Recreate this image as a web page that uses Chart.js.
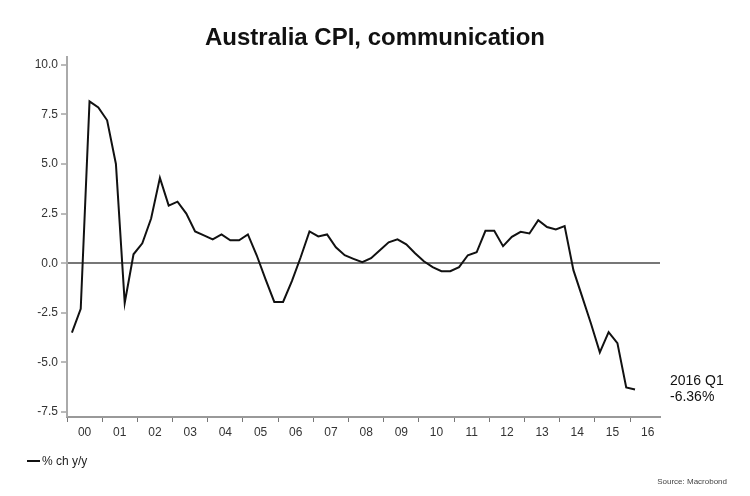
<!DOCTYPE html>
<html><head><meta charset="utf-8">
<script src="https://cdn.jsdelivr.net/npm/chart.js@4.4.1/dist/chart.umd.min.js"></script>
<style>
html,body{margin:0;padding:0;background:#fff;}
#wrap{position:relative;width:750px;height:496px;font-family:'Liberation Sans',Arial,sans-serif;}
#legend{position:absolute;left:27px;top:454px;font-size:12px;color:#222;display:flex;align-items:center;}
#legend .ln{display:inline-block;width:13px;height:2px;background:#111;margin-right:2px;}
#annot{position:absolute;left:670px;top:372px;font-size:14px;line-height:16px;color:#111;}
#source{position:absolute;right:23px;top:477px;font-size:8px;color:#444;}
</style></head><body>
<div id="wrap"><canvas id="c" width="750" height="496"></canvas>
<div id="legend"><span class="ln"></span><span id="legText"></span></div>
<div id="annot"></div><div id="source">Source: Macrobond</div></div>
<script>
const chartTitle = 'Australia CPI, communication';
const seriesName = '% ch y/y';
const startYear = 2000;
// quarterly % change y/y, 2000 Q1 .. 2016 Q1
const cpiComm = [
  -3.5, -2.3, 8.15, 7.85, 7.2, 5.0, -2.0, 0.45, 1.0, 2.25,
  4.3, 2.9, 3.1, 2.5, 1.6, 1.4, 1.2, 1.45, 1.15, 1.15,
  1.45, 0.4, -0.8, -1.95, -1.95, -0.9, 0.3, 1.6, 1.35, 1.45,
  0.8, 0.4, 0.22, 0.05, 0.25, 0.65, 1.05, 1.2, 0.95, 0.5,
  0.1, -0.2, -0.4, -0.4, -0.2, 0.4, 0.55, 1.63, 1.63, 0.86,
  1.33, 1.58, 1.5, 2.17, 1.82, 1.7, 1.87, -0.35, -1.7, -3.05,
  -4.49, -3.47, -4.03, -6.26, -6.36
];
const yearLabels = ['00','01','02','03','04','05','06','07','08','09','10','11','12','13','14','15','16'];
const yTickValues = [-7.5, -5, -2.5, 0, 2.5, 5, 7.5, 10];

const quarters = cpiComm.map((v, i) => (startYear + Math.floor(i / 4)) + ' Q' + (i % 4 + 1));
const points = quarters.map((q, i) => {
  const yr = parseInt(q.slice(0, 4), 10);
  const qn = parseInt(q.slice(6), 10);
  return { x: yr + (qn - 1) / 4 + 0.14, y: cpiComm[i] };
});

Chart.defaults.font.family = "'Liberation Sans', Arial, sans-serif";

new Chart(document.getElementById('c'), {
  type: 'line',
  data: { datasets: [{
    label: seriesName, data: points, borderColor: '#111', borderWidth: 2,
    pointRadius: 0, tension: 0, fill: false
  }]},
  options: {
    responsive: false, animation: false,
    layout: { padding: { left: 0, right: 0, top: 0, bottom: 51 } },
    plugins: {
      legend: { display: false }, tooltip: { enabled: false },
      title: { display: true, text: chartTitle, color: '#111',
        font: { size: 24, weight: 'bold' }, padding: { top: 24, bottom: 4 } }
    },
    scales: {
      x: {
        type: 'linear', min: startYear, max: 2016.85,
        afterFit: s => { s.height = 28; },
        afterBuildTicks: s => {
          const t = [];
          yearLabels.forEach((l, i) => { t.push({ value: startYear + i }); t.push({ value: startYear + i + 0.5 }); });
          s.ticks = t;
        },
        ticks: {
          autoSkip: false, maxRotation: 0, minRotation: 0, padding: 3,
          font: { size: 12 }, color: '#333',
          callback: v => {
            const f = v - Math.floor(v);
            return Math.abs(f - 0.5) < 1e-6 ? yearLabels[Math.floor(v) - startYear] : '';
          }
        },
        grid: { drawOnChartArea: false, tickLength: 5, tickWidth: 1,
          tickColor: c => (c.tick && Math.abs(c.tick.value % 1) < 1e-6) ? '#777' : 'rgba(0,0,0,0)' },
        border: { color: '#999', width: 2 }
      },
      y: {
        min: -7.75, max: 10.4,
        afterFit: s => { s.width = 67; },
        afterBuildTicks: s => { s.ticks = yTickValues.map(v => ({ value: v })); },
        ticks: { padding: 3, font: { size: 12 }, color: '#333', callback: v => v.toFixed(1) },
        grid: {
          color: c => (c.tick && c.tick.value === 0) ? '#777' : 'rgba(0,0,0,0)',
          lineWidth: c => (c.tick && c.tick.value === 0) ? 2 : 0,
          tickLength: 6, tickColor: '#777', tickWidth: 1
        },
        border: { color: '#aaa', width: 2 }
      },
      yRightSpace: {
        position: 'right', display: true, min: 0, max: 1,
        afterFit: s => { s.width = 90; },
        ticks: { display: false }, grid: { display: false }, border: { display: false }
      }
    }
  }
});

document.getElementById('legText').textContent = seriesName;
const li = cpiComm.length - 1;
document.getElementById('annot').innerHTML = quarters[li] + '<br>' + cpiComm[li].toFixed(2) + '%';
</script>
</body></html>
